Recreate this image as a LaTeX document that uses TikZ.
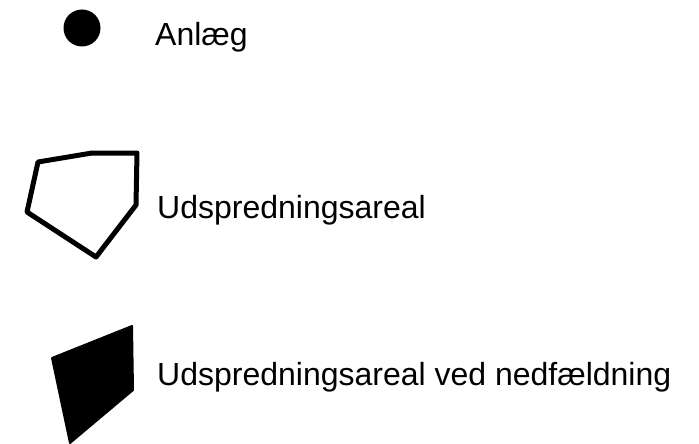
\documentclass[tikz,border=0pt]{standalone}
\usepackage{fontspec}
\setmainfont{Liberation Sans}
\begin{document}
\begin{tikzpicture}[x=1pt,y=-1pt,
  lbl/.style={anchor=base west,inner sep=0pt,font=\fontsize{32}{36}\selectfont},
  area/.style={draw=black,line width=5pt,line join=round}]
\useasboundingbox (0,0) rectangle (699,444);
\fill[black] (82,28) circle (18.5);
\node[lbl] (t1) at (155,46) {Anlæg};
\draw[area] (38,162) -- (92,153) -- (137,153) -- (136,205) -- (96,257) -- (27,212) -- cycle;
\node[lbl] (t2) at (157,218) {Udspredningsareal};
\filldraw[area,line width=2pt,fill=black] (52,358) -- (132,326) -- (133,390) -- (70,443) -- cycle;
\node[lbl] (t3) at (157,385) {Udspredningsareal ved nedfældning};
\end{tikzpicture}
\end{document}
